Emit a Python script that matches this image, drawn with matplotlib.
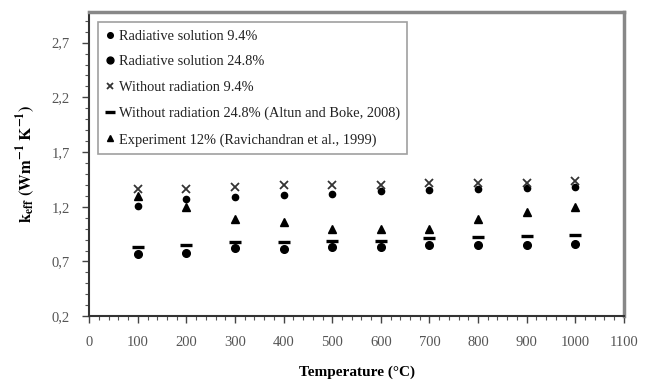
import numpy as np
import matplotlib.pyplot as plt
from matplotlib.ticker import MultipleLocator, FuncFormatter

plt.rcParams['font.family'] = ['Liberation Serif', 'DejaVu Serif']
plt.rcParams['mathtext.fontset'] = 'stix'

# data
temp = [100, 200, 300, 400, 500, 600, 700, 800, 900, 1000]
rad_94 = [1.21, 1.27, 1.29, 1.31, 1.32, 1.34, 1.35, 1.36, 1.37, 1.38]
rad_248 = [0.77, 0.78, 0.82, 0.81, 0.83, 0.83, 0.85, 0.85, 0.85, 0.86]
norad_94 = [1.36, 1.36, 1.38, 1.40, 1.40, 1.40, 1.42, 1.42, 1.42, 1.44]
norad_248 = [0.83, 0.85, 0.88, 0.88, 0.89, 0.89, 0.91, 0.92, 0.93, 0.94]
exp_12 = [1.30, 1.20, 1.09, 1.06, 1.00, 1.00, 1.00, 1.09, 1.15, 1.20]

labels = ['Radiative solution 9.4%',
          'Radiative solution 24.8%',
          'Without radiation 9.4%',
          'Without radiation 24.8% (Altun and Boke, 2008)',
          'Experiment 12% (Ravichandran et al., 1999)']

fig = plt.figure(figsize=(6.56, 3.87), dpi=100)
ax = fig.add_axes([0.136, 0.183, 0.815, 0.786])

ax.plot(temp, rad_94, 'o', color='black', markersize=4.5, label=labels[0])
ax.plot(temp, rad_248, 'o', color='black', markersize=5.5, label=labels[1])
ax.plot(temp, norad_94, 'x', color='#333333', markersize=5.5, mew=1.3, label=labels[2])
ax.plot(temp, norad_248, '_', color='black', markersize=8, mew=2.4, label=labels[3])
ax.plot(temp, exp_12, '^', color='black', markersize=5.5, label=labels[4])

ax.set_xlim(0, 1100)
ax.set_ylim(0.2, 2.98)
ax.set_xticks(np.arange(0, 1101, 100))
ax.set_yticks([0.2, 0.7, 1.2, 1.7, 2.2, 2.7])
ax.xaxis.set_minor_locator(MultipleLocator(20))
ax.yaxis.set_minor_locator(MultipleLocator(0.1))
ax.yaxis.set_major_formatter(FuncFormatter(lambda v, p: f'{v:.1f}'.replace('.', ',')))

ax.tick_params(which='major', direction='out', length=5, width=1, colors='#444444',
               labelsize=10.5, labelcolor='#555555', pad=9)
ax.tick_params(which='minor', direction='out', length=3, width=0.8, colors='#555555')

for s in ['left', 'bottom']:
    ax.spines[s].set_color('#333333')
    ax.spines[s].set_linewidth(1.5)
for s in ['top', 'right']:
    ax.spines[s].set_color('#888888')
    ax.spines[s].set_linewidth(2.5)

ax.set_xlabel('Temperature (°C)', fontsize=11, fontweight='bold', labelpad=12)
ax.set_ylabel(r'$\mathbf{k_{eff}\ (Wm^{-1}\ K^{-1})}$', fontsize=12, labelpad=10)

leg = ax.legend(loc='upper left', bbox_to_anchor=(0.003, 0.99), fontsize=10.4,
                handlelength=0.6, handletextpad=0.35, labelspacing=0.88,
                borderpad=0.5, frameon=True, fancybox=False, markerscale=0.9)
leg.get_frame().set_edgecolor('#888888')
leg.get_frame().set_linewidth(1.2)
for t in leg.get_texts():
    t.set_color('#222222')

fig.savefig('out.png', dpi=100)
